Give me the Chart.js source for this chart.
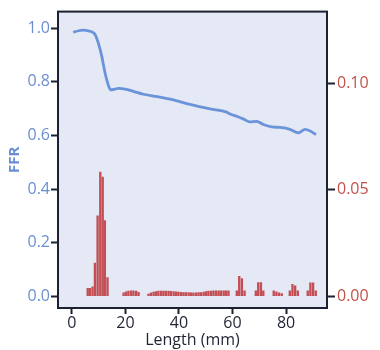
<!DOCTYPE html>
<html>
<head>
<meta charset="utf-8">
<script src="https://cdn.jsdelivr.net/npm/chart.js@4.4.1/dist/chart.umd.min.js"></script>
<style>
  html, body { margin: 0; padding: 0; background: #ffffff; }
  canvas { display: block; }
</style>
</head>
<body>
<canvas id="ffrChart" width="380" height="350"></canvas>
<script>
// FFR pullback curve (length in mm, FFR)
const ffrLength = [0.5, 2.5, 4.2, 6.5, 7.4, 8.6, 9.8, 11.1, 12.3, 13.6, 14.5, 16.1, 17.3, 20.4, 22.9, 26.7, 32.9, 37.9, 44.1, 51.6, 57.8, 59.1, 62.0, 64.0, 66.5, 69.0, 71.5, 74.7, 77.8, 81.5, 84.6, 87.1, 89.0, 91.2];
const ffrValue = [0.985, 0.991, 0.993, 0.990, 0.987, 0.978, 0.947, 0.898, 0.837, 0.788, 0.770, 0.773, 0.776, 0.772, 0.765, 0.754, 0.743, 0.733, 0.716, 0.699, 0.687, 0.680, 0.670, 0.662, 0.651, 0.653, 0.641, 0.632, 0.630, 0.623, 0.610, 0.623, 0.617, 0.603];

// FFR gradient per position (bars, right axis)
const gradLength = [
  5.9, 6.7, 7.7, 8.6, 9.6, 10.6, 11.5, 12.3, 13.3,
  19.3, 20.2, 21.1, 22.1, 23.0, 24.0, 24.9,
  28.6, 29.5, 30.5, 31.4, 32.3, 33.3, 34.2, 35.1, 36.1, 37.0, 38.0, 38.9, 39.8, 40.8, 41.7, 42.6, 43.6,
  44.5, 45.4, 46.4, 47.3, 48.2, 49.2, 50.1, 51.0, 52.0, 52.9, 53.9, 54.8, 55.7, 56.7, 57.6, 58.5,
  61.6, 62.5, 63.5, 64.5,
  68.7, 69.6, 70.6, 71.5,
  75.4, 76.4, 77.4, 78.4,
  81.4, 82.4, 83.4, 84.4,
  88.1, 89.1, 90.1, 91.1
];
const gradValue = [
  0.0036, 0.0036, 0.0044, 0.0155, 0.0378, 0.0583, 0.0560, 0.0355, 0.0087,
  0.0015, 0.0020, 0.0023, 0.0025, 0.0025, 0.0024, 0.0018,
  0.0009, 0.0015, 0.0019, 0.0021, 0.0023, 0.0024, 0.0024, 0.0024, 0.0023, 0.0022, 0.0021, 0.0020, 0.0019, 0.0018, 0.0017, 0.0016, 0.0016,
  0.0015, 0.0015, 0.0015, 0.0016, 0.0017, 0.0019, 0.0021, 0.0023, 0.0024, 0.0025, 0.0025, 0.0025, 0.0025, 0.0025, 0.0025, 0.0025,
  0.0025, 0.0093, 0.0082, 0.0025,
  0.0025, 0.0063, 0.0063, 0.0025,
  0.0025, 0.0020, 0.0015, 0.0012,
  0.0025, 0.0055, 0.0048, 0.0025,
  0.0025, 0.0062, 0.0062, 0.0025
];

const xTicks = [0, 20, 40, 60, 80];
const ffrTicks = [0, 0.2, 0.4, 0.6, 0.8, 1.0];
const gradTicks = [0, 0.05, 0.10];

const blue = '#6a8ed4';
const red = '#c2514b';
const frame = '#1b2033';
const fontFamily = '"Open Sans", "Noto Sans", sans-serif';

// plot background + closed frame
const plotFrame = {
  id: 'plotFrame',
  beforeDraw(chart) {
    const { ctx, chartArea: a } = chart;
    ctx.save();
    ctx.fillStyle = '#e5e9f5';
    ctx.fillRect(a.left, a.top, a.right - a.left, a.bottom - a.top);
    ctx.restore();
  },
  afterDatasetsDraw(chart) {
    const { ctx, chartArea: a } = chart;
    ctx.save();
    ctx.strokeStyle = frame;
    ctx.lineWidth = 2;
    ctx.strokeRect(a.left, a.top, a.right - a.left, a.bottom - a.top);
    ctx.restore();
  }
};

const tickGrid = {
  drawOnChartArea: false,
  drawTicks: true,
  tickColor: frame,
  tickWidth: 2
};

new Chart(document.getElementById('ffrChart'), {
  type: 'bar',
  data: {
    datasets: [
      {
        type: 'line',
        label: 'FFR',
        data: ffrLength.map((x, i) => ({ x: x, y: ffrValue[i] })),
        yAxisID: 'yFFR',
        borderColor: '#6a93d9',
        borderWidth: 2.8,
        pointRadius: 0,
        cubicInterpolationMode: 'monotone',
        fill: false,
        order: 0
      },
      {
        type: 'bar',
        label: 'Gradient',
        data: gradLength.map((x, i) => ({ x: x, y: gradValue[i] })),
        yAxisID: 'yGrad',
        backgroundColor: '#c24f55',
        barThickness: 1.7,
        order: 1
      }
    ]
  },
  options: {
    responsive: false,
    animation: false,
    layout: { padding: { top: 7, left: 0, right: 0, bottom: 0 } },
    plugins: {
      legend: { display: false },
      tooltip: { enabled: false }
    },
    scales: {
      x: {
        type: 'linear',
        position: 'bottom',
        min: -5.2,
        max: 95.3,
        offset: false,
        grid: Object.assign({ offset: false, tickLength: 6 }, tickGrid),
        border: { display: false },
        ticks: {
          color: '#1f2433',
          font: { family: fontFamily, size: 16, weight: '500' },
          padding: 0,
          maxRotation: 0
        },
        title: {
          display: true,
          text: 'Length (mm)',
          color: '#1f2433',
          font: { family: fontFamily, size: 16, weight: '500' },
          padding: { top: 0, bottom: 0 }
        },
        afterBuildTicks: s => { s.ticks = xTicks.map(v => ({ value: v })); },
        afterFit: s => { s.height = 42; }
      },
      yFFR: {
        type: 'linear',
        position: 'left',
        min: -0.044,
        max: 1.0625,
        grid: Object.assign({ tickLength: 7 }, tickGrid),
        border: { display: false },
        ticks: {
          color: blue,
          font: { family: fontFamily, size: 16, weight: '500' },
          padding: 1,
          callback: v => v.toFixed(1)
        },
        title: {
          display: true,
          text: 'FFR',
          color: blue,
          font: { family: fontFamily, size: 15, weight: 'bold' },
          padding: { top: 6, bottom: 0 }
        },
        afterBuildTicks: s => { s.ticks = ffrTicks.map(v => ({ value: v })); },
        afterFit: s => { s.width = 58; }
      },
      yGrad: {
        type: 'linear',
        position: 'right',
        min: -0.0056,
        max: 0.1338,
        grid: Object.assign({ tickLength: 8 }, tickGrid),
        border: { display: false },
        ticks: {
          color: red,
          font: { family: fontFamily, size: 16, weight: '500' },
          padding: 2,
          callback: v => v.toFixed(2)
        },
        afterBuildTicks: s => { s.ticks = gradTicks.map(v => ({ value: v })); },
        afterFit: s => { s.width = 53; }
      }
    }
  },
  plugins: [plotFrame]
});
</script>
</body>
</html>
